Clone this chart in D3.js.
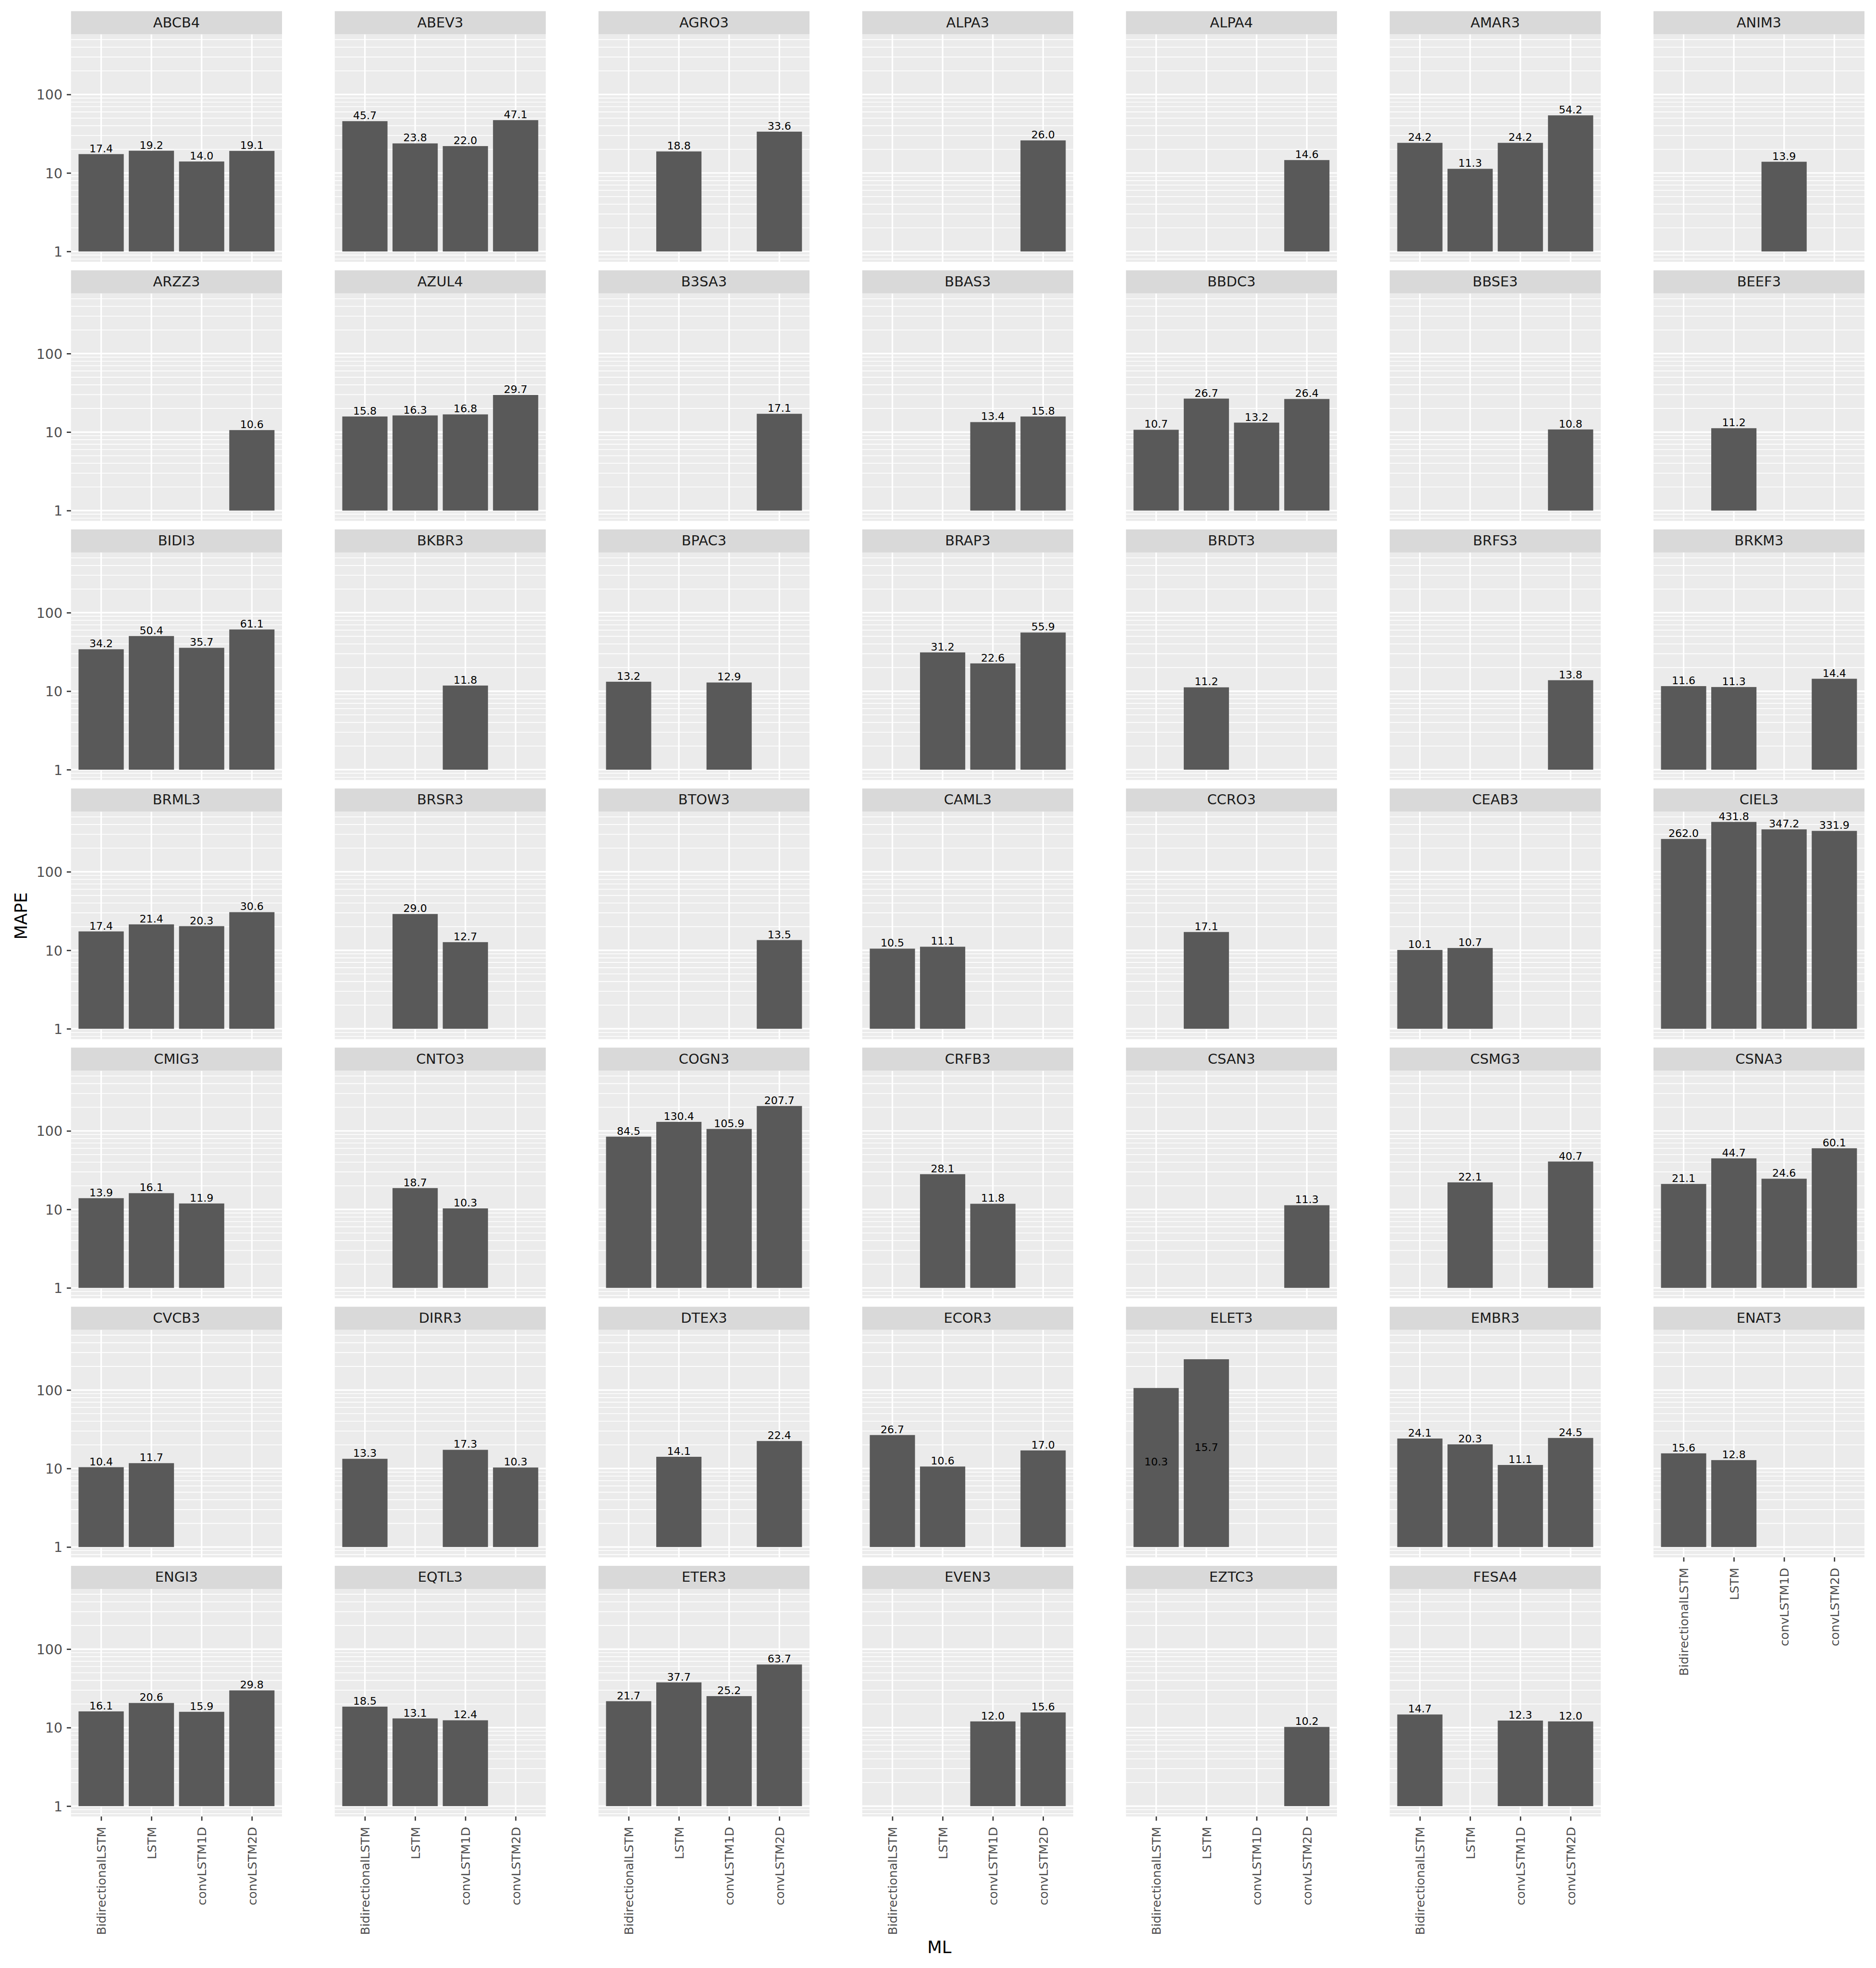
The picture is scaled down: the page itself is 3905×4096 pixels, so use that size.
<!DOCTYPE html>
<html><head><meta charset="utf-8">
<script src="https://cdn.jsdelivr.net/npm/d3@7"></script>
<style>body{margin:0;background:#fff}svg{display:block}</style>
</head><body><div id="chart"></div>
<script>
// ---------------- data ----------------
const tickers = ["ABCB4","ABEV3","AGRO3","ALPA3","ALPA4","AMAR3","ANIM3",
 "ARZZ3","AZUL4","B3SA3","BBAS3","BBDC3","BBSE3","BEEF3",
 "BIDI3","BKBR3","BPAC3","BRAP3","BRDT3","BRFS3","BRKM3",
 "BRML3","BRSR3","BTOW3","CAML3","CCRO3","CEAB3","CIEL3",
 "CMIG3","CNTO3","COGN3","CRFB3","CSAN3","CSMG3","CSNA3",
 "CVCB3","DIRR3","DTEX3","ECOR3","ELET3","EMBR3","ENAT3",
 "ENGI3","EQTL3","ETER3","EVEN3","EZTC3","FESA4"];
const models = ["BidirectionalLSTM","LSTM","convLSTM1D","convLSTM2D"];
const mapeBidirectionalLSTM = [17.4,45.7,null,null,null,24.2,null,
 null,15.8,null,null,10.7,null,null,
 34.2,null,13.2,null,null,null,11.6,
 17.4,null,null,10.5,null,10.1,262.0,
 13.9,null,84.5,null,null,null,21.1,
 10.4,13.3,null,26.7,10.3,24.1,15.6,
 16.1,18.5,21.7,null,null,14.7];
const mapeLSTM = [19.2,23.8,18.8,null,null,11.3,null,
 null,16.3,null,null,26.7,null,11.2,
 50.4,null,null,31.2,11.2,null,11.3,
 21.4,29.0,null,11.1,17.1,10.7,431.8,
 16.1,18.7,130.4,28.1,null,22.1,44.7,
 11.7,null,14.1,10.6,15.7,20.3,12.8,
 20.6,13.1,37.7,null,null,null];
const mapeConvLSTM1D = [14.0,22.0,null,null,null,24.2,13.9,
 null,16.8,null,13.4,13.2,null,null,
 35.7,11.8,12.9,22.6,null,null,null,
 20.3,12.7,null,null,null,null,347.2,
 11.9,10.3,105.9,11.8,null,null,24.6,
 null,17.3,null,null,null,11.1,null,
 15.9,12.4,25.2,12.0,null,12.3];
const mapeConvLSTM2D = [19.1,47.1,33.6,26.0,14.6,54.2,null,
 10.6,29.7,17.1,15.8,26.4,10.8,null,
 61.1,null,null,55.9,null,13.8,14.4,
 30.6,null,13.5,null,null,null,331.9,
 null,null,207.7,null,11.3,40.7,60.1,
 null,10.3,22.4,17.0,null,24.5,null,
 29.8,null,63.7,15.6,10.2,12.0];
// rows that appear twice in the source table (stacked on the log scale)
const duplicatedRows = [["ELET3","BidirectionalLSTM"],["ELET3","LSTM"]];
const yTickValues = [1, 10, 100];
const yTickLabels = ["1", "10", "100"];
const xTitle = "ML", yTitle = "MAPE";

// ---------------- layout (reference pixel units) ----------------
const W = 4863, H = 5101;
const nCols = 7;
const colX0 = 184, colStep = 683.7, panelW = 547;
const rowY0 = 29, rowStep = 671.6, stripH = 59.8, panelH = 589.8;
const FONT = "'DejaVu Sans', 'Liberation Sans', sans-serif";

const seriesByModel = [mapeBidirectionalLSTM, mapeLSTM, mapeConvLSTM1D, mapeConvLSTM2D];
const records = [];
tickers.forEach((t, i) => {
  models.forEach((m, j) => {
    const v = seriesByModel[j][i];
    if (v == null) return;
    const count = duplicatedRows.filter(d => d[0] === t && d[1] === m).length ? 2 : 1;
    records.push({ticker: t, model: m, value: v, count: count,
                  top: Math.pow(10, count * Math.log10(v))});
  });
});

const dataMax = d3.max(records, d => Math.max(d.top, d.value));
const R = Math.log10(dataMax);
const lo = Math.pow(10, -0.05 * R), hi = Math.pow(10, 1.05 * R);

const y = d3.scaleLog().domain([lo, hi]).range([panelH, 0]);
const x = d3.scalePoint().domain(models).range([0, panelW]).padding(0.6);
const barW = 0.9 * x.step();

const svg = d3.select("#chart").append("svg")
  .attr("width", 3905).attr("height", 4096)
  .attr("viewBox", `0 0 ${W} ${H}`)
  .style("font-family", FONT);
svg.append("rect").attr("width", W).attr("height", H).attr("fill", "#fff");

const minorVals = [];
for (let e = -1; e <= 3; e++) for (let k = 2; k <= 9; k++) {
  const v = k * Math.pow(10, e);
  if (v >= lo && v <= hi) minorVals.push(v);
}
const majorVals = yTickValues.filter(v => v >= lo && v <= hi);

tickers.forEach((t, i) => {
  const c = i % nCols, r = Math.floor(i / nCols);
  const px = colX0 + c * colStep;
  const sy = rowY0 + r * rowStep;
  const py = sy + stripH;
  const g = svg.append("g").attr("transform", `translate(${px},${py})`);

  // strip
  svg.append("rect").attr("x", px).attr("y", sy).attr("width", panelW).attr("height", stripH)
    .attr("fill", "#D9D9D9");
  svg.append("text").attr("x", px + panelW / 2).attr("y", sy + 41.5)
    .attr("text-anchor", "middle").attr("font-size", 36).attr("fill", "#1A1A1A").text(t);

  // panel
  g.append("rect").attr("width", panelW).attr("height", panelH).attr("fill", "#EBEBEB");
  g.selectAll("line.minor").data(minorVals).enter().append("line")
    .attr("x1", 0).attr("x2", panelW).attr("y1", d => y(d)).attr("y2", d => y(d))
    .attr("stroke", "#fff").attr("stroke-width", 2);
  g.selectAll("line.major").data(majorVals).enter().append("line")
    .attr("x1", 0).attr("x2", panelW).attr("y1", d => y(d)).attr("y2", d => y(d))
    .attr("stroke", "#fff").attr("stroke-width", 4);
  g.selectAll("line.vmajor").data(models).enter().append("line")
    .attr("x1", d => x(d)).attr("x2", d => x(d)).attr("y1", 0).attr("y2", panelH)
    .attr("stroke", "#fff").attr("stroke-width", 4);

  const recs = records.filter(d => d.ticker === t);
  g.selectAll("rect.bar").data(recs).enter().append("rect")
    .attr("x", d => x(d.model) - barW / 2).attr("width", barW)
    .attr("y", d => y(d.top)).attr("height", d => y(1) - y(d.top))
    .attr("fill", "#595959");
  g.selectAll("text.lab").data(recs).enter().append("text")
    .attr("x", d => x(d.model)).attr("y", d => y(d.value) - 5)
    .attr("text-anchor", "middle").attr("font-size", 27.5).attr("fill", "#000")
    .text(d => d.value.toFixed(1));

  // y axis on first column
  if (c === 0) {
    const ax = g.append("g").call(d3.axisLeft(y).tickValues(yTickValues)
      .tickFormat((d, k) => yTickLabels[k]).tickSize(11).tickPadding(11));
    ax.select(".domain").remove();
    ax.selectAll(".tick line").attr("stroke", "#333333").attr("stroke-width", 3.3);
    ax.selectAll(".tick text").attr("fill", "#4D4D4D").attr("font-size", 35.5)
      .attr("font-family", FONT).attr("dy", "0.36em");
  }
  // x axis where no panel below
  if (i + nCols >= tickers.length) {
    const ax = g.append("g").attr("transform", `translate(0,${panelH})`)
      .call(d3.axisBottom(x).tickSize(11));
    ax.select(".domain").remove();
    ax.selectAll(".tick line").attr("stroke", "#333333").attr("stroke-width", 3.3);
    ax.selectAll(".tick text").attr("fill", "#4D4D4D").attr("font-size", 31.5)
      .attr("font-family", FONT)
      .attr("transform", "rotate(-90)").attr("text-anchor", "end")
      .attr("x", -27).attr("y", 0).attr("dy", "0.36em");
  }
});

// axis titles
svg.append("text").attr("transform", "translate(70,2374) rotate(-90)")
  .attr("text-anchor", "middle").attr("font-size", 44).attr("fill", "#000").text(yTitle);
svg.append("text").attr("x", 2435).attr("y", 5062)
  .attr("text-anchor", "middle").attr("font-size", 44).attr("fill", "#000").text(xTitle);
</script>
</body></html>
